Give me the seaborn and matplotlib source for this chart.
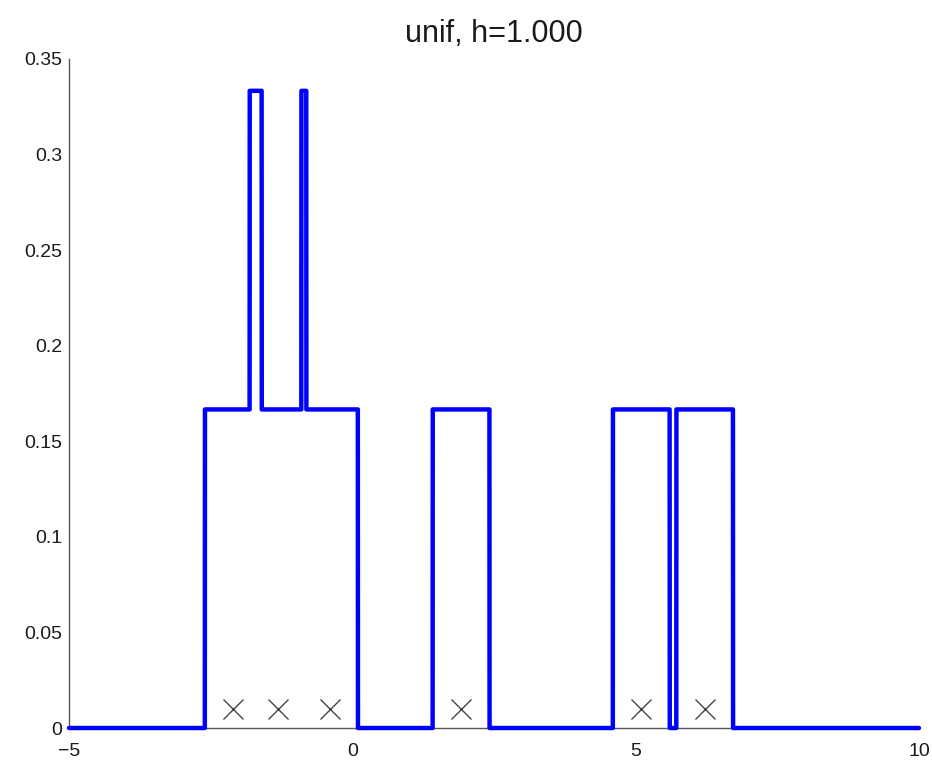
import numpy as np
import pandas as pd
import matplotlib
matplotlib.use("Agg")
import matplotlib.pyplot as plt
import seaborn as sns

# Sample points and kernel settings
samples = [-2.10, -1.31, -0.40, 1.92, 5.10, 6.22]
bandwidth = 1.0
kernel_name = "unif"
x_range = (-5, 10)
x_ticks = [-5, 0, 5, 10]
y_ticks = [0, 0.05, 0.1, 0.15, 0.2, 0.25, 0.3, 0.35]
marker_height = 0.01

# Uniform (boxcar) kernel density estimate on a dense grid
grid = np.linspace(x_range[0], x_range[1], 6001)
pts = np.asarray(samples)
inside = np.abs((grid[:, None] - pts[None, :]) / bandwidth) <= 0.5
density = inside.sum(axis=1) / (len(pts) * bandwidth)
kde_df = pd.DataFrame({"x": grid, "density": density})
pts_df = pd.DataFrame({"x": samples, "y": [marker_height] * len(samples)})

sns.set_style("white")
plt.rcParams["font.family"] = ["Liberation Sans", "DejaVu Sans"]

fig = plt.figure(figsize=(9.32, 7.64), dpi=100)
ax = fig.add_axes([0.074, 0.0471, 0.912, 0.8757])

sns.lineplot(data=kde_df, x="x", y="density", ax=ax, color=(0, 0, 1),
             linewidth=3.2, estimator=None, sort=False, clip_on=False, zorder=3)
ax.plot(pts_df["x"], pts_df["y"], linestyle="none", marker="x",
        markersize=14, markeredgewidth=1.0, color="#444444", zorder=4)

ax.set_xlim(*x_range)
ax.set_ylim(0, 0.35)
ax.set_xticks(x_ticks)
ax.set_xticklabels([str(t).replace("-", "\u2212") for t in x_ticks])
ax.set_yticks(y_ticks)
ax.set_yticklabels(["0"] + [f"{t:g}" for t in y_ticks[1:]])
ax.set_xlabel("")
ax.set_ylabel("")

for side in ("top", "right"):
    ax.spines[side].set_visible(False)
for side in ("left", "bottom"):
    ax.spines[side].set_color("#555555")
    ax.spines[side].set_linewidth(1.0)
ax.tick_params(direction="in", length=6.5, width=1.0, colors="#555555",
               labelcolor="#1a1a1a", labelsize=14)
ax.tick_params(axis="x", pad=11)
ax.tick_params(axis="y", pad=5)

ax.set_title(f"{kernel_name}, h={bandwidth:.3f}", fontsize=22, pad=12,
             color="#1a1a1a")

fig.savefig("out.png", dpi=100)
